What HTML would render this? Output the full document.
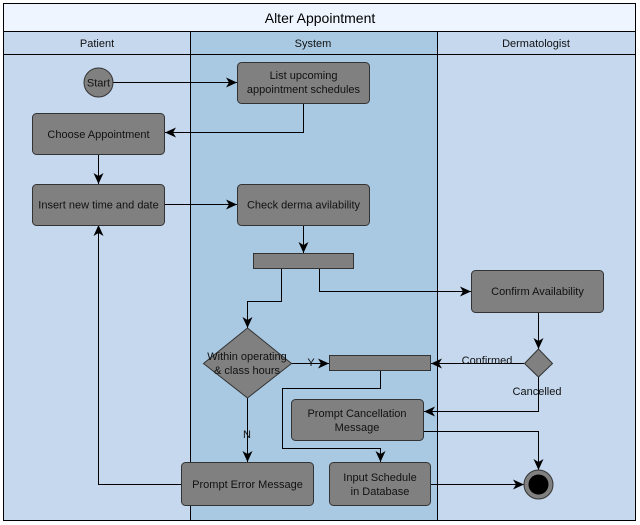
<!DOCTYPE html>
<html><head><meta charset="utf-8"><style>
html,body{margin:0;padding:0;background:#fff;}
svg{display:block;font-family:"Liberation Sans",sans-serif;}
</style></head><body>
<svg width="640" height="525" viewBox="0 0 640 525" xmlns="http://www.w3.org/2000/svg">
<defs>
<marker id="a" markerWidth="12" markerHeight="10" refX="11" refY="5" orient="auto" markerUnits="userSpaceOnUse">
<path d="M0,0 L11,5 L0,10 L3,5 Z" fill="#000"/>
</marker>
</defs>
<rect x="3.5" y="3.5" width="632" height="517" fill="#eef5ff" stroke="#000"/>
<rect x="3.5" y="31.5" width="187" height="489" fill="#c5d8ee" stroke="#000"/>
<rect x="190.5" y="31.5" width="247" height="489" fill="#a9c8e2" stroke="#000"/>
<rect x="437.5" y="31.5" width="198" height="489" fill="#c5d8ee" stroke="#000"/>
<line x1="3" y1="54.5" x2="636" y2="54.5" stroke="#000"/>
<text x="320" y="23" font-size="14" text-anchor="middle">Alter Appointment</text>
<g font-size="11" text-anchor="middle" fill="#111">
<text x="97" y="47">Patient</text>
<text x="313" y="47">System</text>
<text x="536" y="47">Dermatologist</text>
</g>
<g fill="none" stroke="#000" stroke-width="1">
<path d="M112,82.5 H237" marker-end="url(#a)"/>
<path d="M303.5,104 V132.5 H165" marker-end="url(#a)"/>
<path d="M98.5,154 V184" marker-end="url(#a)"/>
<path d="M164,204.5 H237" marker-end="url(#a)"/>
<path d="M303.5,225 V253" marker-end="url(#a)"/>
<path d="M281.5,268 V301.5 H247.5 V328" marker-end="url(#a)"/>
<path d="M319.5,268 V291.5 H471" marker-end="url(#a)"/>
<path d="M538.5,312 V349" marker-end="url(#a)"/>
<path d="M524,363.5 H431" marker-end="url(#a)"/>
<path d="M538.5,377 V411.5 H424" marker-end="url(#a)"/>
<path d="M291,363.5 H329" marker-end="url(#a)"/>
<path d="M247.5,398 V462" marker-end="url(#a)"/>
<path d="M380.5,370 V388.5 H282.5 V448.5 H380.5 V462" marker-end="url(#a)"/>
<path d="M423,431.5 H538.5 V470" marker-end="url(#a)"/>
<path d="M430,484.5 H524" marker-end="url(#a)"/>
<path d="M181,484.5 H98.5 V225" marker-end="url(#a)"/>
</g>
<g fill="#808080" stroke="#333" stroke-width="1">
<circle cx="98.5" cy="82.5" r="14.5"/>
<rect x="237.5" y="62.5" width="132" height="41" rx="4"/>
<rect x="32.5" y="113.5" width="132" height="41" rx="4"/>
<rect x="32.5" y="184.5" width="132" height="41" rx="4"/>
<rect x="237.5" y="184.5" width="132" height="41" rx="4"/>
<rect x="253.5" y="253.5" width="100" height="15"/>
<rect x="471.5" y="270.5" width="132" height="42" rx="4"/>
<path d="M247.5,328 L291.5,363.5 L247.5,398 L203.5,363.5 Z"/>
<rect x="329.5" y="355.5" width="101" height="15"/>
<path d="M538.5,349 L552.5,363.5 L538.5,377 L524.5,363.5 Z"/>
<rect x="291.5" y="399.5" width="132" height="41" rx="4"/>
<rect x="181.5" y="462.5" width="132" height="43" rx="4"/>
<rect x="329.5" y="462.5" width="101" height="43" rx="4"/>
<circle cx="538.5" cy="484.5" r="14.5"/>
</g>
<circle cx="538.5" cy="484.5" r="10" fill="#000"/>
<g font-size="11" text-anchor="middle" fill="#111">
<text x="98.5" y="86.5">Start</text>
<text x="303.5" y="79">List upcoming</text>
<text x="303.5" y="93">appointment schedules</text>
<text x="98.5" y="138">Choose Appointment</text>
<text x="98.5" y="208.5">Insert new time and date</text>
<text x="303.5" y="208.5">Check derma avilability</text>
<text x="537.5" y="295">Confirm Availability</text>
<text x="247" y="360">Within operating</text>
<text x="247" y="374">&amp; class hours</text>
<text x="311" y="366">Y</text>
<text x="247" y="438">N</text>
<text x="487" y="364">Confirmed</text>
<text x="537" y="395">Cancelled</text>
<text x="357" y="417">Prompt Cancellation</text>
<text x="357" y="431">Message</text>
<text x="247.5" y="488">Prompt Error Message</text>
<text x="380" y="481">Input Schedule</text>
<text x="380" y="495">in Database</text>
</g>
</svg>
</body></html>
